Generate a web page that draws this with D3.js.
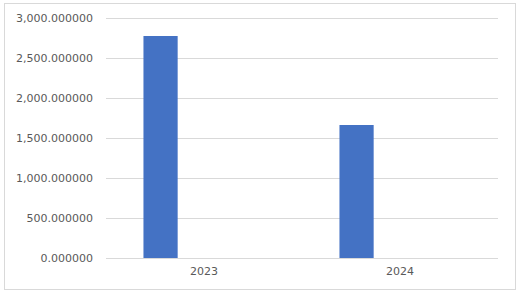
<!DOCTYPE html>
<html><head><meta charset="utf-8">
<script src="https://cdn.jsdelivr.net/npm/d3@7"></script>
<style>body{margin:0;background:#fff}svg{display:block}</style>
</head><body>
<script>
const categories = ["2023", "2024"];
const series1 = [2775, 1662.5];
const series2 = [0, 0];
const series3 = [0, 0];
const yTicks = [0, 500, 1000, 1500, 2000, 2500, 3000];

(function () {
const W = 522, H = 296;
const svg = d3.select("body").append("svg").attr("width", W).attr("height", H);
svg.append("rect").attr("x", 4.5).attr("y", 3.5).attr("width", 511).attr("height", 286)
  .attr("fill", "#fff").attr("stroke", "#d9d9d9");

const pL = 106, pR = 498, pT = 18, pB = 258;
const y = d3.scaleLinear().domain([0, 3000]).range([pB, pT]);
const x = d3.scaleBand().domain(categories).range([pL, pR]);
const seriesAll = [series1, series2, series3];
// Excel defaults: gap 219%, overlap -27%
const bw = x.bandwidth() / (3 + 2 * 0.27 + 2.19);
const step = bw * 1.27;

const yAxis = d3.axisLeft(y).tickValues(yTicks).tickSize(0).tickPadding(13)
  .tickFormat(d => d3.format(",.6f")(d));
const ga = svg.append("g").attr("transform", `translate(${pL},0)`).call(yAxis);
ga.select(".domain").remove();
ga.selectAll("text").attr("fill", "#595959").style("font-family", "DejaVu Sans").style("font-size", "11px");

svg.append("g").selectAll("line").data(yTicks).join("line")
  .attr("x1", pL).attr("x2", pR)
  .attr("y1", d => Math.round(y(d)) + 0.5).attr("y2", d => Math.round(y(d)) + 0.5)
  .attr("stroke", "#d9d9d9");

seriesAll.forEach((s, i) => {
  svg.append("g").selectAll("rect").data(categories).join("rect")
    .attr("x", d => x(d) + x.bandwidth() / 2 + (i - 1) * step - bw / 2)
    .attr("width", bw)
    .attr("y", (d, j) => y(s[j]))
    .attr("height", (d, j) => y(0) - y(s[j]))
    .attr("fill", ["#4472c4", "#ed7d31", "#a5a5a5"][i]);
});

const xAxis = d3.axisBottom(x).tickSize(0).tickPadding(9);
const gx = svg.append("g").attr("transform", `translate(0,${pB})`).call(xAxis);
gx.select(".domain").remove();
gx.selectAll("text").attr("fill", "#595959").style("font-family", "DejaVu Sans").style("font-size", "11px");
})();
</script>
</body></html>
